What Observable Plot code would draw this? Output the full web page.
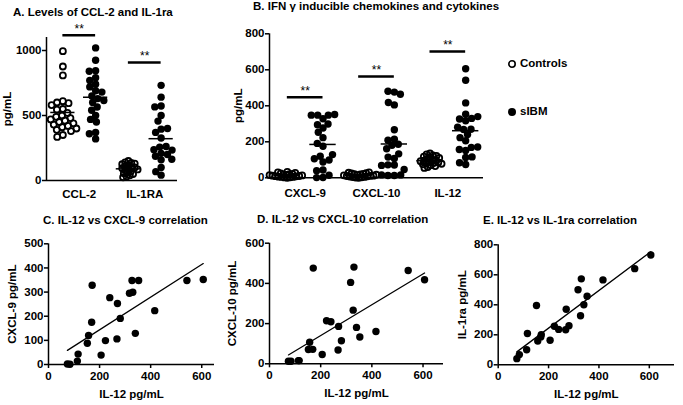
<!DOCTYPE html>
<html><head><meta charset="utf-8">
<script src="https://cdn.jsdelivr.net/npm/d3@7"></script>
<script src="https://cdn.jsdelivr.net/npm/@observablehq/plot@0.6"></script>
<style>
body{margin:0;background:#fff;}
#root{position:relative;width:683px;height:405px;overflow:hidden;font-family:"Liberation Sans",Arial,sans-serif;font-weight:bold;color:#000;background:#fff;}
.panel{position:absolute;}
.title{position:absolute;font-size:11.5px;font-weight:bold;white-space:nowrap;line-height:1;}
.leg{position:absolute;font-size:11.5px;font-weight:bold;white-space:nowrap;line-height:1;display:flex;align-items:center;}
.leg svg{margin-right:3px;}
</style></head>
<body><div id="root"></div>
<script>
// ---------- Data ----------
// Panel A
const panelACategories = ["CCL-2", "IL-1RA"];
const ccl2Controls = [995, 877, 808, 610, 600, 595, 580, 550, 545, 520, 500, 490, 480, 470, 460, 450, 440, 430, 420, 410, 400, 390, 380, 350, 335];
const ccl2SIBM = [1020, 925, 845, 840, 790, 770, 740, 720, 690, 680, 650, 630, 615, 600, 565, 540, 500, 470, 450, 370, 360, 320];
const il1raControls = [150, 140, 135, 130, 125, 120, 110, 105, 100, 95, 90, 85, 80, 70, 60, 55, 50, 40, 30, 25];
// sIBM patients (shared by panels A, B, C, D, E)
const il12SIBM   = [74, 84, 113, 116, 152, 157, 169, 171, 206, 223, 240, 268, 270, 281, 317, 327, 330, 340, 353, 416, 542, 606];
const cxcl9SIBM  = [2, 1, 14, 43, 88, 120, 175, 328, 39, 99, 277, 106, 253, 191, 295, 348, 299, 129, 348, 223, 348, 352];
const cxcl10SIBM = [13, 13, 16, 16, 71, 107, 72, 476, 46, 214, 209, 69, 186, 115, 405, 267, 481, 181, 133, 161, 464, 418];
const il1raSIBM  = [41, 68, 100, 209, 395, 159, 186, 200, 164, 257, 236, 234, 370, 261, 500, 327, 573, 400, 457, 566, 641, 732];
// Panel B
const panelBCategories = ["CXCL-9", "CXCL-10", "IL-12"];
const cxcl9Controls = [0, 2, 3, 5, 5, 6, 8, 9, 10, 12, 13, 15, 16, 18, 20, 22, 25, 27, 30, 33];
const cxcl10Controls = [0, 1, 3, 4, 5, 7, 8, 10, 11, 12, 14, 15, 17, 19, 20, 22, 24, 26, 28, 30];
const il12Controls = [135, 130, 125, 122, 118, 115, 110, 105, 100, 98, 95, 92, 88, 85, 82, 80, 78, 75, 70, 65, 60, 55];
// significance bar levels (pg/mL)
const sigLevelsA = [1118, 908];
const sigLevelsB = [448, 563, 702];
// tick values
const ticksA = [0, 500, 1000];
const ticksB = [0, 200, 400, 600, 800];
const ticksIL12 = [0, 200, 400, 600];
const ticksC = [0, 100, 200, 300, 400, 500];
const ticksD = [0, 200, 400, 600];
const ticksE = [0, 200, 400, 600, 800];
const legendLabels = ["Controls", "sIBM"];

// ---------- Helpers ----------
const root = document.getElementById("root");
const FONT = '"Liberation Sans", Arial, sans-serif';
const fmt = d3.format("d");

function place(el, left, top) {
  el.classList.add("panel");
  el.style.left = left + "px";
  el.style.top = top + "px";
  root.appendChild(el);
}
function title(text, left, top) {
  const d = document.createElement("div");
  d.className = "title";
  d.textContent = text;
  d.style.left = left + "px";
  d.style.top = top + "px";
  root.appendChild(d);
}

function dotPanel(cfg) {
  const {cats, groups, pads, sig, width, height, mL, mR, mT, mB, yDomain, yTicks, labelOffset, xPad} = cfg;
  const n = cats.length * 2;
  const step = (width - mL - mR) / n;
  const marks = [
    Plot.ruleY([0], {strokeWidth: 1.5}),
    Plot.ruleX([0], {strokeWidth: 1.5})
  ];
  const means = [];
  cats.forEach((c, ci) => {
    [0, 1].forEach(k => {
      const vals = groups[ci][k];
      const pos = ci * 2 + k + 0.5;
      const rows = vals.map(v => ({v}));
      const open = k === 0;
      marks.push(Plot.dot(rows, Plot.dodgeX(
        {anchor: "middle", padding: pads[ci][k]},
        {y: "v", r: open ? 3 : 3.7, dx: (pos - n / 2) * step,
         fill: open ? "none" : "black", stroke: "black", strokeWidth: open ? 1.8 : 0}
      )));
      means.push({x1: pos - 0.37, x2: pos + 0.37, y: d3.mean(vals)});
    });
  });
  marks.push(
    Plot.ruleY(means, {x1: "x1", x2: "x2", y: "y", strokeWidth: 1.5}),
    Plot.ruleY(sig.map((y, i) => ({y, x1: 2 * i + 0.5, x2: 2 * i + 1.5})), {x1: "x1", x2: "x2", y: "y", strokeWidth: 2.5}),
    Plot.text(sig.map((y, i) => ({y, x: 2 * i + 1})), {x: "x", y: "y", text: () => "**", dy: -6, fontSize: 12, fontWeight: "normal"}),
    Plot.axisY({ticks: yTicks, tickSize: 4, tickPadding: 1, tickFormat: fmt, strokeWidth: 1.5, fontSize: 11.5,
      label: "pg/mL", labelAnchor: "center", labelArrow: "none", labelOffset}),
    Plot.axisX({ticks: cats.map((c, i) => 2 * i + 1), tickFormat: i => cats[(i - 1) / 2], tickSize: 0, tickPadding: xPad, label: null, fontSize: 11.5})
  );
  return Plot.plot({
    width, height, marginLeft: mL, marginRight: mR, marginTop: mT, marginBottom: mB,
    x: {domain: [0, n]}, y: {domain: yDomain},
    style: {fontFamily: FONT, fontSize: "11px", fontWeight: "bold", background: "transparent", overflow: "visible", color: "black"},
    marks
  });
}

function scatterPanel(cfg) {
  const {xs, ys, width, height, mL, mR, mT, mB, xDomain, yDomain, xTicks, yTicks, ylabel, yLabelOffset} = cfg;
  const rows = xs.map((x, i) => ({x, y: ys[i]}));
  return Plot.plot({
    width, height, marginLeft: mL, marginRight: mR, marginTop: mT, marginBottom: mB,
    x: {domain: xDomain}, y: {domain: yDomain},
    style: {fontFamily: FONT, fontSize: "11px", fontWeight: "bold", background: "transparent", overflow: "visible", color: "black"},
    marks: [
      Plot.ruleY([0], {strokeWidth: 1.5}),
      Plot.ruleX([0], {strokeWidth: 1.5}),
      Plot.axisX({ticks: xTicks, tickSize: 4, tickPadding: 3, tickFormat: fmt, strokeWidth: 1.5, fontSize: 11.5,
        label: "IL-12 pg/mL", labelAnchor: "center", labelArrow: "none", labelOffset: 33}),
      Plot.axisY({ticks: yTicks, tickSize: 4, tickPadding: 1, tickFormat: fmt, strokeWidth: 1.5, fontSize: 11.5,
        label: ylabel, labelAnchor: "center", labelArrow: "none", labelOffset: yLabelOffset}),
      Plot.linearRegressionY(rows, {x: "x", y: "y", ci: 0, stroke: "black", strokeWidth: 1.3}),
      Plot.dot(rows, {x: "x", y: "y", r: 3.7, fill: "black"})
    ]
  });
}

// ---------- Panels ----------
place(dotPanel({
  cats: panelACategories,
  groups: [[ccl2Controls, ccl2SIBM], [il1raControls, il1raSIBM]],
  pads: [[0, -1], [-2.5, -1]],
  sig: sigLevelsA,
  width: 190, height: 205, mL: 46, mR: 13, mT: 37, mB: 25,
  yDomain: [0, 1100], yTicks: ticksA, labelOffset: 44, xPad: 9
}), 0, 0);

place(dotPanel({
  cats: panelBCategories,
  groups: [[cxcl9Controls, cxcl9SIBM], [cxcl10Controls, cxcl10SIBM], [il12Controls, il12SIBM]],
  pads: [[-3, -1], [-3, -1], [-2.5, -1]],
  sig: sigLevelsB,
  width: 290, height: 205, mL: 69, mR: 7, mT: 33.3, mB: 27.7,
  yDomain: [0, 800], yTicks: ticksB, labelOffset: 36, xPad: 11
}), 200, 0);

place(scatterPanel({
  xs: il12SIBM, ys: cxcl9SIBM, width: 220, height: 175, mL: 48, mR: 6, mT: 13.3, mB: 41,
  xDomain: [0, 650], yDomain: [0, 500], xTicks: ticksIL12, yTicks: ticksC,
  ylabel: "CXCL-9 pg/mL", yLabelOffset: 41
}), 0, 230);

place(scatterPanel({
  xs: il12SIBM, ys: cxcl10SIBM, width: 225, height: 175, mL: 44, mR: 7, mT: 12.7, mB: 41.7,
  xDomain: [0, 680], yDomain: [0, 600], xTicks: ticksIL12, yTicks: ticksD,
  ylabel: "CXCL-10 pg/mL", yLabelOffset: 42
}), 225, 230);

place(scatterPanel({
  xs: il12SIBM, ys: il1raSIBM, width: 228, height: 175, mL: 42.7, mR: 9, mT: 14.3, mB: 40.7,
  xDomain: [0, 700], yDomain: [0, 800], xTicks: ticksIL12, yTicks: ticksE,
  ylabel: "IL-1ra pg/mL", yLabelOffset: 40
}), 455, 230);

// ---------- Titles ----------
title("A. Levels of CCL-2 and IL-1ra", 13, 7);
title("B. IFN γ inducible chemokines and cytokines", 253, 1);
title("C. IL-12 vs CXCL-9 correlation", 43, 215);
title("D. IL-12 vs CXCL-10 correlation", 257, 214);
title("E. IL-12 vs IL-1ra correlation", 483, 215);

// ---------- Legend ----------
legendLabels.forEach((lab, i) => {
  const d = document.createElement("div");
  d.className = "leg";
  d.style.left = "507px";
  d.style.top = (58 + i * 48) + "px";
  const ns = "http://www.w3.org/2000/svg";
  const s = document.createElementNS(ns, "svg");
  s.setAttribute("width", 10); s.setAttribute("height", 10);
  const c = document.createElementNS(ns, "circle");
  c.setAttribute("cx", 5); c.setAttribute("cy", 5);
  c.setAttribute("r", i === 0 ? 3.2 : 4);
  c.setAttribute("fill", i === 0 ? "none" : "black");
  c.setAttribute("stroke", "black");
  c.setAttribute("stroke-width", i === 0 ? 1.6 : 0);
  s.appendChild(c);
  d.appendChild(s);
  const t = document.createElement("span");
  t.textContent = lab;
  d.appendChild(t);
  root.appendChild(d);
});
</script>
</body></html>
